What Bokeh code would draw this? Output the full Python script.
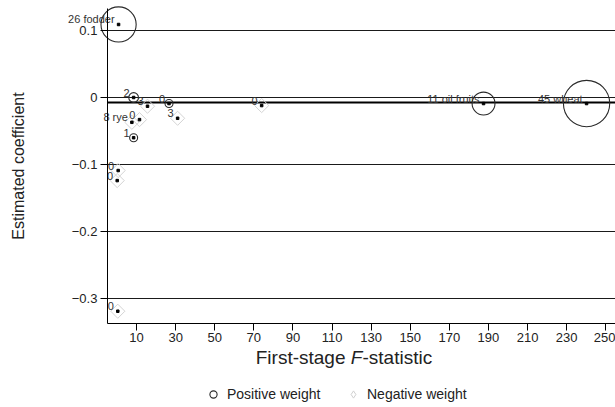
import math
from bokeh.plotting import figure
from bokeh.models import ColumnDataSource, FixedTicker, Label, Legend, LegendItem, Range1d, Grid
from bokeh.core.properties import value
from bokeh.embed import file_html
from bokeh.resources import INLINE

# ---------------- data ----------------
pos_fstat = [0.8, 8.5, 26.6, 8.5, 187.5, 240.2]
pos_coef = [0.109, 0.0, -0.009, -0.060, -0.009, -0.009]
pos_weight = [26, 2, 0, 1, 11, 45]
pos_label = ["26 fodder", "2", "0", "1", "11 oil fruits", "45 wheat"]

neg_fstat = [15.6, 31.0, 7.6, 11.5, 0.6, 0.1, 0.4, 74.0]
neg_coef = [-0.013, -0.031, -0.037, -0.033, -0.109, -0.124, -0.319, -0.012]
neg_label = ["3", "3", "8 rye", "0", "0", "0", "0", "0"]

overall_coef = -0.0075

x_ticks = [10, 30, 50, 70, 90, 110, 130, 150, 170, 190, 210, 230, 250]
y_ticks = [-0.3, -0.2, -0.1, 0, 0.1]
y_tick_labels = {-0.3: "\u22120.3", -0.2: "\u22120.2", -0.1: "\u22120.1", 0: "0", 0.1: "0.1"}

# ---------------- layout / styling ----------------
FONT = "Liberation Sans"
W, H = 615, 407
# plot region (axes positions) and full visible data window
x_axis_start, x_axis_end = -4.9, 255.0
y_axis_start, y_axis_end = -0.337, 0.133
x_view = (-59.6, 255.0)
y_view = (-0.4627, 0.1448)

pos_size = [max(2 * 3.45 * math.sqrt(w), 8) for w in pos_weight]

pos_src = ColumnDataSource(dict(x=pos_fstat, y=pos_coef, size=pos_size, label=pos_label))
neg_src = ColumnDataSource(dict(x=neg_fstat, y=neg_coef, label=neg_label))

p = figure(width=W, height=H, output_backend="svg", toolbar_location=None,
           x_range=Range1d(*x_view), y_range=Range1d(*y_view),
           min_border_left=0, min_border_right=0, min_border_top=0, min_border_bottom=0)
p.outline_line_color = None
p.background_fill_color = "white"

# grid
p.xgrid.visible = False
p.ygrid.ticker = FixedTicker(ticks=y_ticks)
p.ygrid.grid_line_color = "#1a1a1a"
p.ygrid.grid_line_width = 1
if "cross_bounds" in Grid.properties():
    p.ygrid.cross_bounds = (x_axis_start, x_axis_end)
else:
    p.ygrid.visible = False
    p.segment(x0=[x_axis_start] * len(y_ticks), x1=[x_axis_end] * len(y_ticks),
              y0=y_ticks, y1=y_ticks, line_color="#1a1a1a", line_width=1)

# axes
for ax in (p.xaxis[0], p.yaxis[0]):
    ax.axis_line_color = "black"
    ax.major_tick_line_color = "black"
    ax.major_tick_out = 7
    ax.major_tick_in = 0
    ax.minor_tick_line_color = None
    ax.major_label_text_font = FONT
    ax.major_label_text_font_size = "13px"
    ax.major_label_text_color = "#222222"

p.xaxis.fixed_location = y_axis_start
p.xaxis.bounds = (x_axis_start, x_axis_end)
p.xaxis.ticker = FixedTicker(ticks=x_ticks)
p.xaxis.major_label_standoff = 3

p.yaxis.fixed_location = x_axis_start
p.yaxis.bounds = (y_axis_start, y_axis_end)
p.yaxis.ticker = FixedTicker(ticks=y_ticks)
p.yaxis.major_label_overrides = y_tick_labels
p.yaxis.major_label_standoff = 3
p.yaxis.axis_label = "Estimated coefficient"
p.yaxis.axis_label_text_font = FONT
p.yaxis.axis_label_text_font_style = "normal"
p.yaxis.axis_label_text_font_size = "16px"
p.yaxis.axis_label_text_color = "#222222"
p.yaxis.axis_label_standoff = 42

# x-axis title built from pieces so that F can be italic (screen units from bottom-left)
xF = 356
title_kw = dict(x_units="screen", y_units="screen", y=H - 357, text_font=FONT,
                text_font_size="19px", text_color="#222222", text_baseline="middle")
p.add_layout(Label(x=xF - 11, text="First-stage", text_align="right", **title_kw))
p.add_layout(Label(x=xF, text="F", text_align="center", text_font_style="italic", **title_kw))
p.add_layout(Label(x=xF + 6, text="-statistic", text_align="left", **title_kw))

# overall estimate line
p.segment(x0=[x_axis_start], x1=[x_axis_end], y0=[overall_coef], y1=[overall_coef],
          line_color="black", line_width=2)

# markers
neg_r = p.scatter("x", "y", source=neg_src, marker="square", size=10, angle=math.pi / 4,
                  fill_color=None, line_color="#d4d4d4", line_width=1)
pos_r = p.scatter("x", "y", source=pos_src, marker="circle", size="size",
                  fill_color=None, line_color="#2a2a2a", line_width=1.1)
p.scatter(pos_fstat, pos_coef, marker="square", size=2.5, color="black")
p.scatter(neg_fstat, neg_coef, marker="square", size=2.5, color="black")
# legend key for the negative-weight markers (legend keys are never rotated);
# a single non-finite point so nothing is drawn in the plot itself
neg_key = p.scatter(x=[float("nan")], y=[float("nan")], marker="diamond", fill_color=None,
                    line_color="#d0d0d0", line_width=1)

# marker labels
for src in (pos_src, neg_src):
    p.text("x", "y", text="label", source=src, x_offset=-4, y_offset=-5,
           text_align="right", text_baseline="middle", text_font=value(FONT),
           text_font_size="11px", text_color="#333333")

leg_kw = dict(orientation="horizontal", padding=0, margin=0, label_standoff=5,
              border_line_color=None, background_fill_alpha=0,
              label_text_font=FONT, label_text_font_size="14px", label_text_color="#222222")
legend_pos = Legend(items=[LegendItem(label="Positive weight", renderers=[pos_r])],
                    location=(204, 4), glyph_width=18, glyph_height=18, **leg_kw)
legend_neg = Legend(items=[LegendItem(label="Negative weight", renderers=[neg_key])],
                    location=(344, 0), glyph_width=18, glyph_height=26, **leg_kw)
p.add_layout(legend_pos, "center")
p.add_layout(legend_neg, "center")

open("out.html", "w").write(file_html(p, INLINE))
